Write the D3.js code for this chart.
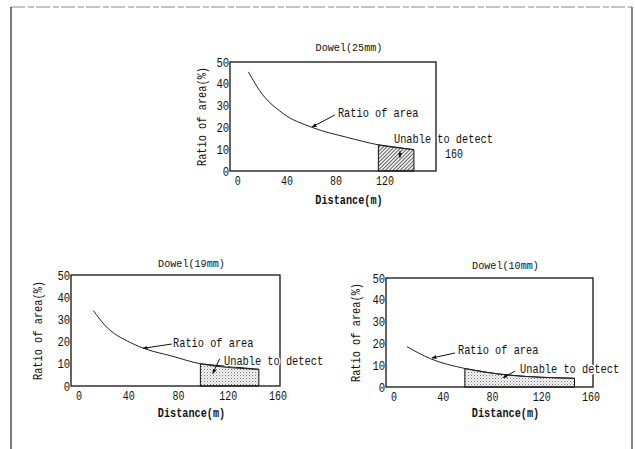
<!DOCTYPE html>
<html>
<head>
<meta charset="utf-8">
<script src="https://cdn.jsdelivr.net/npm/d3@7"></script>
<style>
  body { margin: 0; background: #fff; }
  text { font-family: "Liberation Mono", "DejaVu Sans Mono", monospace; fill: #111; }
</style>
</head>
<body>
<svg id="chart" width="635" height="449"></svg>
<script>
// Tick labels
const yTicks = [0, 10, 20, 30, 40, 50];
const xTicksTop = [0, 40, 80, 120];
const xTicks = [0, 40, 80, 120, 160];

// Dowel 25mm
const dist25 = [9, 18, 37, 61, 89, 115, 144];
const ratio25 = [45.5, 37, 26.5, 20, 15.5, 12, 9.8];
const undetect25 = [115, 144];

// Dowel 19mm
const dist19 = [12, 21, 42, 55, 75, 98, 145];
const ratio19 = [34, 27.5, 19.5, 16.5, 13.5, 10, 7.5];
const undetect19 = [98, 145];

// Dowel 10mm
const dist10 = [11, 30, 58, 93, 147];
const ratio10 = [18.5, 13, 8.5, 5.5, 4];
const undetect10 = [58, 147];

const titles = ["Dowel(25mm)", "Dowel(19mm)", "Dowel(10mm)"];

// layout of each panel (pixel box) and where its notes sit (data units)
const panels = [
  { title: titles[0], dist: dist25, ratio: ratio25, undetect: undetect25, fill: "url(#hatch)",
    box: { left: 230, right: 436, top: 62, bottom: 171 }, xTicks: xTicksTop, ylabDx: -28, titleDy: -15, xlabDy: 29,
    ratioNote: { text: [82, 26.6], from: [79.5, 25.7], to: [61, 20.2] },
    undetNote: { text: [127.7, 14.7], from: [132.6, 9.2], to: [132.6, 6.2] }, stray160: true },
  { title: titles[1], dist: dist19, ratio: ratio19, undetect: undetect19, fill: "url(#dots)",
    box: { left: 71, right: 280, top: 275, bottom: 386 }, xTicks: xTicks, ylabDx: -33, titleDy: -12, xlabDy: 27,
    ratioNote: { text: [76, 19.4], from: [75, 18.9], to: [52, 17] },
    undetNote: { text: [117, 11.3], from: [113.5, 12.3], to: [108, 5.6] } },
  { title: titles[2], dist: dist10, ratio: ratio10, undetect: undetect10, fill: "url(#dots)",
    box: { left: 386, right: 593, top: 278, bottom: 387 }, xTicks: xTicks, ylabDx: -30, titleDy: -13, xlabDy: 26,
    ratioNote: { text: [52.4, 17], from: [50, 15.6], to: [31.3, 13.3] },
    undetNote: { text: [102.8, 8.3], from: [98.7, 7.3], to: [89, 4.2] } }
];

const svg = d3.select("#chart");
const defs = svg.append("defs");

// diagonal hatching for the 25mm panel
const hatch = defs.append("pattern")
  .attr("id", "hatch").attr("patternUnits", "userSpaceOnUse")
  .attr("width", 2.6).attr("height", 2.6).attr("patternTransform", "rotate(45)");
hatch.append("rect").attr("width", 2.6).attr("height", 2.6).attr("fill", "#eee");
hatch.append("line").attr("x1", 0).attr("y1", 0).attr("x2", 0).attr("y2", 2.6)
  .attr("stroke", "#222").attr("stroke-width", 1.3);

// stipple for the other two
const dots = defs.append("pattern")
  .attr("id", "dots").attr("patternUnits", "userSpaceOnUse")
  .attr("width", 3).attr("height", 3);
dots.append("rect").attr("width", 3).attr("height", 3).attr("fill", "#f4f4f4");
dots.append("rect").attr("x", 0).attr("y", 0).attr("width", 1).attr("height", 1).attr("fill", "#777");
dots.append("rect").attr("x", 1.5).attr("y", 1.5).attr("width", 1).attr("height", 1).attr("fill", "#aaa");

defs.append("marker")
  .attr("id", "arrow").attr("viewBox", "0 0 10 10")
  .attr("refX", 9).attr("refY", 5)
  .attr("markerWidth", 5).attr("markerHeight", 5)
  .attr("orient", "auto")
  .append("path").attr("d", "M0,1 L10,5 L0,9 Z").attr("fill", "#111");

// condensed text: positioned by transform so the horizontal squeeze stays in place
function label(g, x, y, str, size, opts = {}) {
  const t = g.append("text")
    .attr("transform", `translate(${x},${y})${opts.rotate ? " rotate(-90)" : ""} scale(${opts.sx || 0.86},1)`)
    .attr("dy", "0.35em")
    .attr("text-anchor", opts.anchor || "start")
    .attr("font-size", size)
    .text(str);
  if (opts.bold) t.attr("font-weight", "bold");
  if (opts.halo) t.attr("stroke", "#fff").attr("stroke-width", 3).attr("paint-order", "stroke");
  return t;
}

// outer frame of the scanned page
svg.append("line").attr("x1", 11).attr("y1", 7).attr("x2", 632).attr("y2", 7)
  .attr("stroke", "#888").attr("stroke-width", 1).attr("stroke-dasharray", "14,3,6,2");
svg.append("line").attr("x1", 11).attr("y1", 7).attr("x2", 11).attr("y2", 449)
  .attr("stroke", "#333").attr("stroke-width", 1.3);
svg.append("line").attr("x1", 632).attr("y1", 7).attr("x2", 632).attr("y2", 449)
  .attr("stroke", "#444").attr("stroke-width", 1.3);

panels.forEach(p => {
  const b = p.box;
  const x = d3.scaleLinear().domain([-6, 162]).range([b.left, b.right]);
  const y = d3.scaleLinear().domain([0, 50]).range([b.bottom, b.top]);
  const g = svg.append("g");
  const pts = p.dist.map((d, i) => [d, p.ratio[i]]);

  // region that cannot be detected
  const shaded = pts.filter(d => d[0] >= p.undetect[0] && d[0] <= p.undetect[1]);
  g.append("path")
    .datum(shaded)
    .attr("d", d3.area().x(d => x(d[0])).y0(y(0)).y1(d => y(d[1])).curve(d3.curveMonotoneX))
    .attr("fill", p.fill)
    .attr("stroke", "#111").attr("stroke-width", 1);

  // box
  g.append("rect")
    .attr("x", b.left).attr("y", b.top)
    .attr("width", b.right - b.left).attr("height", b.bottom - b.top)
    .attr("fill", "none").attr("stroke", "#111").attr("stroke-width", 1.3);

  // curve
  g.append("path")
    .datum(pts)
    .attr("d", d3.line().x(d => x(d[0])).y(d => y(d[1])).curve(d3.curveMonotoneX))
    .attr("fill", "none").attr("stroke", "#222").attr("stroke-width", 1);

  // axes: labels only
  const xa = g.append("g").attr("transform", `translate(0,${b.bottom + 2})`)
    .call(d3.axisBottom(x).tickValues(p.xTicks).tickSize(0).tickFormat(d3.format("d")));
  xa.select(".domain").remove();
  xa.selectAll("text").attr("font-size", 12.5).attr("font-family", "Liberation Sans, Arial, sans-serif")
    .attr("transform", "scale(0.8,1)");

  const ya = g.append("g").attr("transform", `translate(${b.left},0)`)
    .call(d3.axisLeft(y).tickValues(yTicks).tickSize(0).tickPadding(1).tickFormat(d3.format("d")));
  ya.select(".domain").remove();
  ya.selectAll("text").attr("font-size", 12.5).attr("font-family", "Liberation Sans, Arial, sans-serif")
    .attr("transform", "scale(0.85,1)");

  const cx = (b.left + b.right) / 2 + 16;
  label(g, cx, b.top + p.titleDy, p.title, 11.5, { anchor: "middle", sx: 0.88 });
  label(g, cx, b.bottom + p.xlabDy, "Distance(m)", 12, { anchor: "middle", bold: true, sx: 0.85 });
  label(g, b.left + p.ylabDx, (b.top + b.bottom) / 2, "Ratio of area(%)", 12,
    { anchor: "middle", rotate: true, sx: 0.86 });

  // notes
  const note = (n, str) => {
    g.append("line")
      .attr("x1", x(n.from[0])).attr("y1", y(n.from[1]))
      .attr("x2", x(n.to[0])).attr("y2", y(n.to[1]))
      .attr("stroke", "#111").attr("stroke-width", 1).attr("marker-end", "url(#arrow)");
    label(g, x(n.text[0]), y(n.text[1]), str, 12, { halo: true, sx: 0.86 });
  };
  note(p.ratioNote, "Ratio of area");
  note(p.undetNote, "Unable to detect");

  if (p.stray160) {
    g.append("text").attr("transform", `translate(${b.right + 9},${y(8)}) scale(0.8,1)`)
      .attr("dy", "0.35em").attr("font-size", 12.5)
      .attr("font-family", "Liberation Sans, Arial, sans-serif").text("160");
  }
});
</script>
</body>
</html>
